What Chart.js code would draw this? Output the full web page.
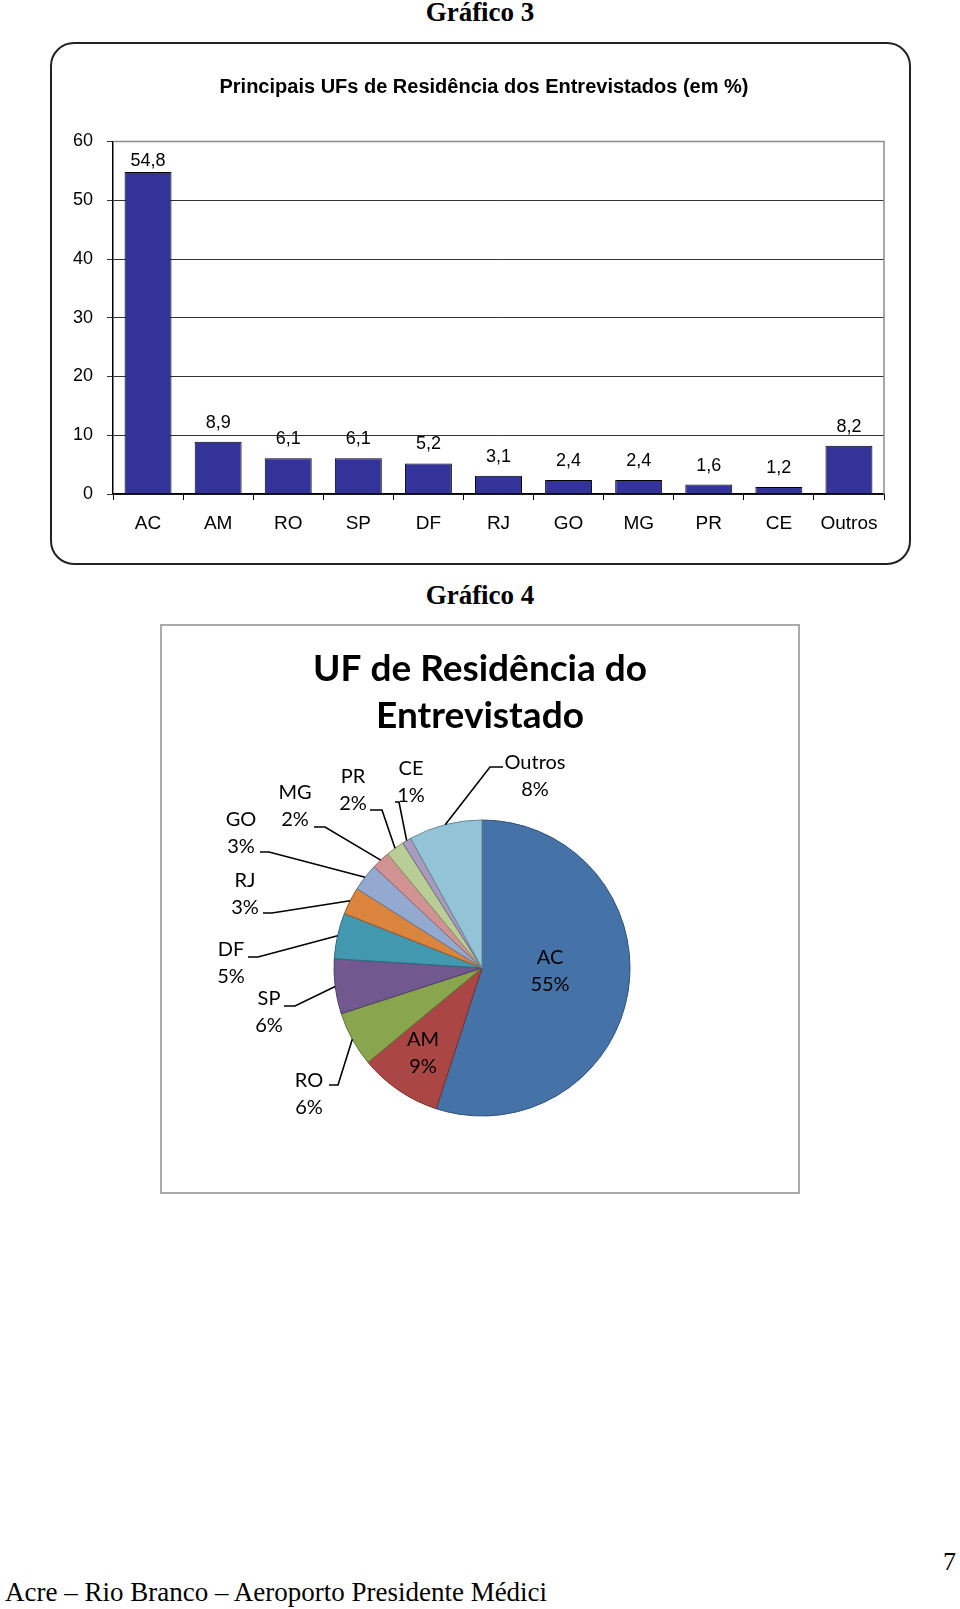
<!DOCTYPE html>
<html lang="pt-BR">
<head>
<meta charset="utf-8">
<title>Gráfico 3 e Gráfico 4</title>
<script src="https://cdn.jsdelivr.net/npm/chart.js@4.4.1/dist/chart.umd.min.js"></script>
<style>
  html, body { margin: 0; padding: 0; background: #fff; }
  body { width: 960px; height: 1609px; position: relative; overflow: hidden; }
  .heading { position: absolute; left: 0; width: 960px; text-align: center; font: bold 27px 'Liberation Serif', serif; color: #000; }
  .box-bar { position: absolute; left: 50px; top: 42px; width: 861px; height: 523px; box-sizing: border-box; border: 2px solid #222; border-radius: 24px; }
  .box-pie { position: absolute; left: 160px; top: 624px; width: 640px; height: 570px; box-sizing: border-box; border: 2px solid #aaa; }
  canvas { position: absolute; left: 0; top: 0; }
  .footer { position: absolute; left: 5px; top: 1577px; font: 27px 'Liberation Serif', serif; color: #000; white-space: nowrap; }
  .pageno { position: absolute; left: 943px; top: 1547px; font: 26px 'Liberation Serif', serif; color: #000; }
</style>
</head>
<body>
<div class="heading" style="top:-3px">Gráfico 3</div>
<div class="box-bar"><canvas id="bar-chart" width="857" height="519"></canvas></div>
<div class="heading" style="top:580px">Gráfico 4</div>
<div class="box-pie"><canvas id="pie-chart" width="636" height="566"></canvas></div>
<div class="footer">Acre – Rio Branco – Aeroporto Presidente Médici</div>
<div class="pageno">7</div>

<script>
// data
const categories = ['AC', 'AM', 'RO', 'SP', 'DF', 'RJ', 'GO', 'MG', 'PR', 'CE', 'Outros'];
const barValues = [54.8, 8.9, 6.1, 6.1, 5.2, 3.1, 2.4, 2.4, 1.6, 1.2, 8.2];
const yTickValues = [0, 10, 20, 30, 40, 50, 60];
const pieValues = [55, 9, 6, 6, 5, 3, 3, 2, 2, 1, 8];

const barTitle = 'Principais UFs de Residência dos Entrevistados (em %)';
const pieTitle = ['UF de Residência do', 'Entrevistado'];

// excel 2007 style colours for the pie
const pieColors = ['#4572A7', '#AA4643', '#89A54E', '#71588F', '#4198AF', '#DB843D',
  '#93A9CF', '#D19392', '#B9CD96', '#A99BBD', '#92C3D6'];

// label layout for the pie (canvas px): block centre, and leader start/elbow (null = inside)
const pieLabelLayout = [
  { at: [388, 345], lead: null },
  { at: [261, 427], lead: null },
  { at: [147, 468], lead: [[167, 459], [176, 459]] },
  { at: [107, 386], lead: [[122, 380], [133, 380]] },
  { at: [69, 337], lead: [[86, 331], [96, 331]] },
  { at: [83, 268], lead: [[101, 287], [110, 287]] },
  { at: [79, 207], lead: [[98, 226], [107, 226]] },
  { at: [133, 180], lead: [[152, 201], [163, 201]] },
  { at: [191, 164], lead: [[208, 184], [220, 184]] },
  { at: [249, 156], lead: [[233, 176], [237, 176]] },
  { at: [373, 150], lead: [[341, 141], [328, 141]] },
];

function darken(hex, f) {
  const n = parseInt(hex.slice(1), 16);
  const r = Math.round(((n >> 16) & 255) * f);
  const g = Math.round(((n >> 8) & 255) * f);
  const b = Math.round((n & 255) * f);
  return `rgb(${r},${g},${b})`;
}

const sans = "'Liberation Sans', Arial, sans-serif";

// title + value labels above the bars, comma decimals
const barDecor = {
  id: 'barDecor',
  afterDatasetsDraw(chart) {
    const ctx = chart.ctx;
    const area = chart.chartArea;
    const meta = chart.getDatasetMeta(0);
    ctx.save();
    ctx.fillStyle = '#000';
    ctx.textAlign = 'center';
    ctx.textBaseline = 'middle';
    ctx.font = 'bold 20px ' + sans;
    ctx.fillText(barTitle, 432, 43);
    ctx.font = '18px ' + sans;
    meta.data.forEach((bar, i) => {
      const y = Math.max(bar.y - 19, area.top + 20);
      ctx.fillText(String(barValues[i]).replace('.', ','), bar.x, y);
    });
    ctx.restore();
  },
};

// grey frame round the plot area
const plotFrame = {
  id: 'plotFrame',
  beforeDatasetsDraw(chart) {
    const { ctx, chartArea: a } = chart;
    ctx.save();
    ctx.strokeStyle = '#8c8c8c';
    ctx.lineWidth = 1.5;
    ctx.beginPath();
    ctx.moveTo(a.left, a.top);
    ctx.lineTo(a.right, a.top);
    ctx.lineTo(a.right, a.bottom);
    ctx.stroke();
    ctx.restore();
  },
};

new Chart(document.getElementById('bar-chart'), {
  type: 'bar',
  data: {
    labels: categories,
    datasets: [{
      data: barValues,
      backgroundColor: '#333399',
      borderColor: '#000',
      borderWidth: 1,
      categoryPercentage: 1,
      barPercentage: 0.67,
    }],
  },
  options: {
    responsive: false, animation: false,
    layout: { padding: { left: 0, right: 25, top: 97.5, bottom: 0 } },
    plugins: {
      legend: { display: false },
      tooltip: { enabled: false },
      title: { display: false },
    },
    scales: {
      x: {
        offset: true,
        grid: { offset: true, drawOnChartArea: false, color: '#000', tickLength: 6 },
        border: { color: '#000', width: 1.5 },
        ticks: { color: '#000', font: { family: sans, size: 19 }, padding: 12 },
        afterFit: (s) => { s.height = 69; },
      },
      y: {
        min: 0, max: 60,
        afterBuildTicks: (s) => { s.ticks = yTickValues.map((v) => ({ value: v })); },
        grid: { color: '#333', lineWidth: 1, tickLength: 6 },
        border: { color: '#000', width: 1.5 },
        ticks: { color: '#000', font: { family: sans, size: 18 }, padding: 14 },
        afterFit: (s) => { s.width = 61; },
      },
    },
  },
  plugins: [plotFrame, barDecor],
});

// pie title, data labels and leader lines
const pieDecor = {
  id: 'pieDecor',
  afterDatasetsDraw(chart) {
    const ctx = chart.ctx;
    const arcs = chart.getDatasetMeta(0).data;
    ctx.save();
    ctx.fillStyle = '#000';
    ctx.textAlign = 'center';
    ctx.textBaseline = 'middle';
    ctx.font = "bold 37px Lato, 'Open Sans', sans-serif";
    ctx.fillText(pieTitle[0], 318, 43);
    ctx.fillText(pieTitle[1], 318, 90);

    ctx.font = "20px Lato, 'Open Sans', sans-serif";
    ctx.strokeStyle = '#000';
    ctx.lineWidth = 1.6;
    arcs.forEach((arc, i) => {
      const lay = pieLabelLayout[i];
      ctx.fillText(categories[i], lay.at[0], lay.at[1] - 13.5);
      ctx.fillText(pieValues[i] + '%', lay.at[0], lay.at[1] + 13.5);
      if (!lay.lead) return;
      const p = arc.getProps(['x', 'y', 'startAngle', 'endAngle', 'outerRadius'], true);
      const mid = (p.startAngle + p.endAngle) / 2;
      const ex = p.x + p.outerRadius * Math.cos(mid);
      const ey = p.y + p.outerRadius * Math.sin(mid);
      ctx.beginPath();
      ctx.moveTo(lay.lead[0][0], lay.lead[0][1]);
      ctx.lineTo(lay.lead[1][0], lay.lead[1][1]);
      ctx.lineTo(ex, ey);
      ctx.stroke();
    });
    ctx.restore();
  },
};

new Chart(document.getElementById('pie-chart'), {
  type: 'pie',
  data: {
    labels: categories,
    datasets: [{
      data: pieValues,
      backgroundColor: pieColors,
      borderColor: pieColors.map((c) => darken(c, 0.7)),
      borderWidth: 1,
    }],
  },
  options: {
    responsive: false, animation: false,
    layout: { padding: { left: 171.5, right: 167.5, top: 193.5, bottom: 75.5 } },
    plugins: {
      legend: { display: false },
      tooltip: { enabled: false },
      title: { display: false },
    },
  },
  plugins: [pieDecor],
});
</script>
</body>
</html>
